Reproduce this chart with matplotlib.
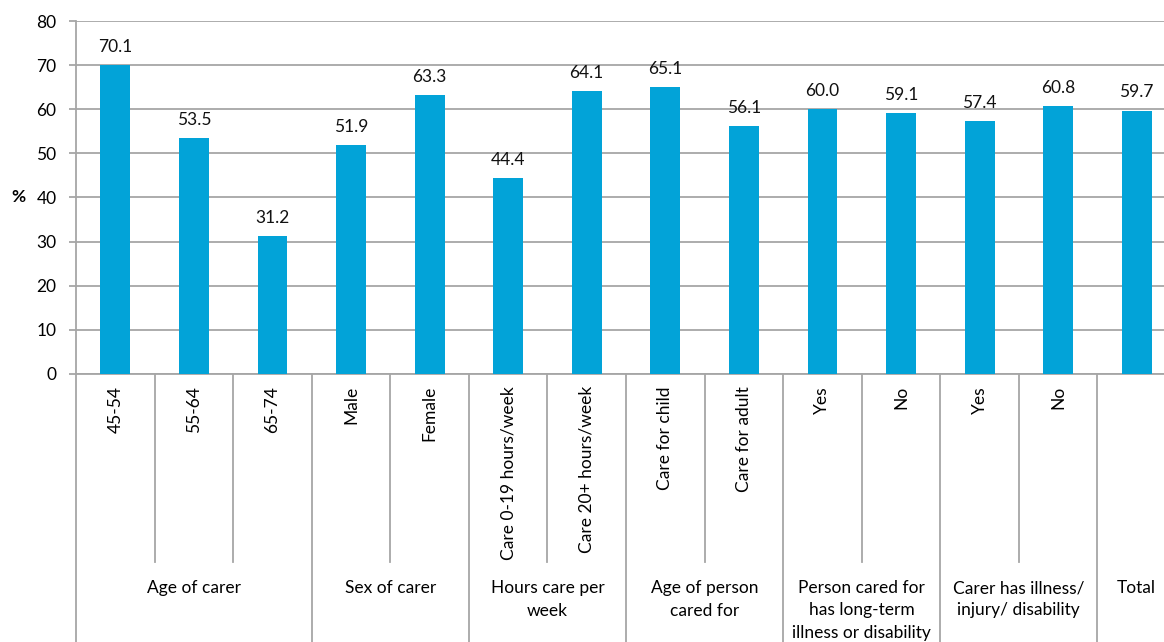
import matplotlib.pyplot as plt
import matplotlib.transforms as mtransforms

plt.rcParams['font.family'] = ['Lato', 'DejaVu Sans']

# DATA
categories = ['45-54', '55-64', '65-74', 'Male', 'Female',
              'Care 0-19 hours/week', 'Care 20+ hours/week',
              'Care for child', 'Care for adult',
              'Yes', 'No', 'Yes', 'No', '']
values = [70.1, 53.5, 31.2, 51.9, 63.3, 44.4, 64.1, 65.1, 56.1,
          60.0, 59.1, 57.4, 60.8, 59.7]
groups = ['Age of carer', 'Sex of carer', 'Hours care per\nweek',
          'Age of person\ncared for',
          'Person cared for\nhas long-term\nillness or disability',
          'Carer has illness/\ninjury/ disability', 'Total']
group_sizes = [3, 2, 2, 2, 2, 2, 1]

bar_color = '#02A3D8'
grey = '#A6A6A6'
fs = 12.5

fig = plt.figure(figsize=(11.64, 6.42), dpi=100)
# axes runs slightly past the right edge, like the original crop
ax = fig.add_axes([76 / 1164, 268 / 642, 1100 / 1164, 353 / 642])

x = range(len(values))
ax.bar(x, values, width=0.38, color=bar_color, zorder=3)

for i, v in enumerate(values):
    ax.text(i, v + 2.3, f'{v:.1f}', ha='center', va='bottom', fontsize=fs, color='#111111')

ax.set_xlim(-0.5, len(values) - 0.5)
ax.set_ylim(0, 80)
ax.set_yticks(range(0, 81, 10))
ax.yaxis.grid(True, color=grey, linewidth=1.3, zorder=0)
ax.set_xticks([])
ax.tick_params(axis='y', length=5, width=1.3, color=grey, pad=9, labelsize=fs)

for s in ['top', 'right']:
    ax.spines[s].set_visible(False)
for s in ['left', 'bottom']:
    ax.spines[s].set_color(grey)
    ax.spines[s].set_linewidth(1.3)

fig.text(18 / 1164, 1 - 197 / 642, '%', fontsize=fs, fontweight='bold', ha='center', va='center')

# MULTI-LEVEL CATEGORY AXIS
trans = mtransforms.blended_transform_factory(ax.transData, ax.transAxes)
inner_bottom = -188 / 353
fig_bottom = -268 / 353

for i, c in enumerate(categories):
    ax.text(i, -12 / 353, c, rotation=90, ha='center', va='top', fontsize=fs,
            transform=trans)

start = 0
group_edges = [-0.5]
for g, n in zip(groups, group_sizes):
    # inner separators
    for k in range(1, n):
        xb = start + k - 0.5
        ax.plot([xb, xb], [0, inner_bottom], color=grey, linewidth=1.3,
                transform=trans, clip_on=False)
    ax.text(start + (n - 1) / 2, -206 / 353, g, ha='center', va='top', fontsize=fs,
            linespacing=1.5, transform=trans)
    start += n
    group_edges.append(start - 0.5)

for xb in group_edges:
    ax.plot([xb, xb], [0, fig_bottom], color=grey, linewidth=1.3,
            transform=trans, clip_on=False)

plt.savefig('out.png', dpi=100)
